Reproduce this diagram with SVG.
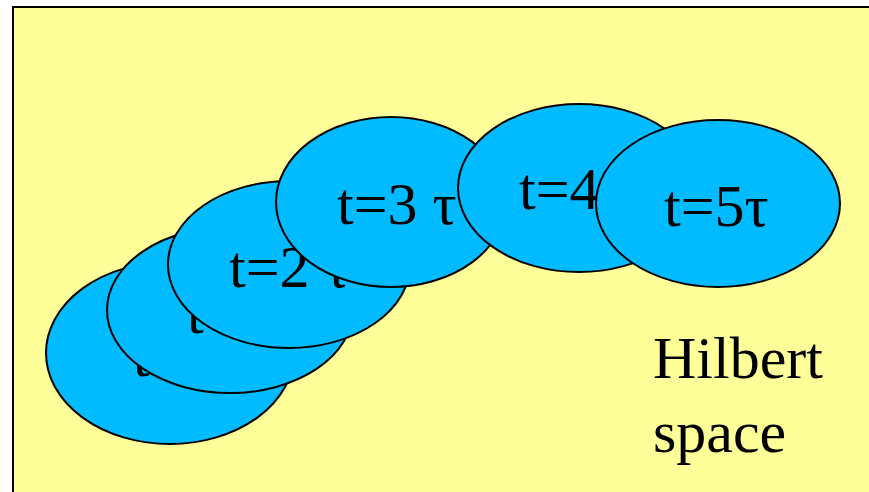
<svg xmlns="http://www.w3.org/2000/svg" width="869" height="492" viewBox="0 0 869 492">
<style>
.bg{fill:#FFFF99;stroke:#000;stroke-width:2}
.st{fill:#00BBFF;stroke:#000;stroke-width:2}
.lb{font-family:"Liberation Serif","Times New Roman",serif;font-size:60px;fill:#000}
</style>
<rect class="bg" x="13" y="7" width="880" height="500"/>
<g id="connectors"></g>
<g id="n0"><ellipse class="st" cx="170" cy="353" rx="124" ry="91"/><text class="lb" x="133" y="376">t</text></g>
<g id="n1"><ellipse class="st" cx="230" cy="310" rx="123" ry="83"/><text class="lb" x="187" y="333">t</text></g>
<g id="n2"><ellipse class="st" cx="289" cy="264.5" rx="121" ry="83.5"/><text class="lb" x="229" y="287">t=2 τ</text></g>
<g id="n3"><ellipse class="st" cx="391" cy="202" rx="115" ry="85"/><text class="lb" x="337" y="224">t=3 τ</text></g>
<g id="n4"><ellipse class="st" cx="579" cy="188" rx="121" ry="84"/><text class="lb" x="519" y="209">t=4 τ</text></g>
<g id="n5"><ellipse class="st" cx="718" cy="203.5" rx="122" ry="83.5"/><text class="lb" x="664" y="226">t=5τ</text></g>
<g id="label"><text class="lb" x="653" y="378">Hilbert</text><text class="lb" x="653" y="452">space</text></g>
</svg>
